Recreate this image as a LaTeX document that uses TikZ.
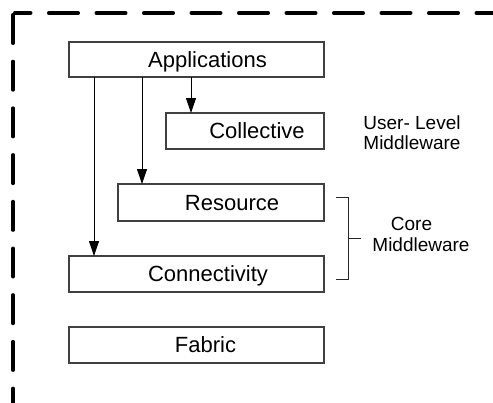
\documentclass[tikz,border=0pt]{standalone}
\usepackage{fontspec}
\setmainfont{Liberation Sans}
\usetikzlibrary{arrows.meta}
\begin{document}
\begin{tikzpicture}[x=1pt,y=-1pt,
  layerbox/.style={draw=black!75,line width=1.1pt},
  boxtext/.style={anchor=base,inner sep=0pt,font=\fontsize{22}{26}\selectfont},
  sidetext/.style={anchor=base,inner sep=0pt,font=\fontsize{19}{22}\selectfont},
  flow/.style={draw=black,line width=0.9pt,-{Triangle[length=15pt,width=10pt]}},
  border/.style={line width=3.5pt,line cap=round}]
\useasboundingbox (0,0) rectangle (493,402);
% dashed outer frame (clipped at the right and bottom)
\begin{scope}
\clip (0,0) rectangle (493,402);
\draw[border,dash pattern=on 28.5pt off 18.2pt] (13,14.75) -- (13,420);
\draw[border,dash pattern=on 29.5pt off 18pt,dash phase=13.5pt] (14.75,13) -- (520,13);
\end{scope}
% layer boxes
\draw[layerbox] (69,42) rectangle (324,77);
\coordinate (appB) at (69,77);
\draw[layerbox] (166,113) rectangle (324,149);
\draw[layerbox] (118,184) rectangle (324,221);
\draw[layerbox] (69,256) rectangle (324,292);
\draw[layerbox] (69,327) rectangle (324,363);
\node[boxtext] (app) at (207.5,67.4) {Applications};
\node[boxtext] (col) at (257,138.9) {Collective};
\node[boxtext] (res) at (232,210.4) {Resource};
\node[boxtext] (con) at (208,281.9) {Connectivity};
\node[boxtext] (fab) at (205.5,352.9) {Fabric};
% connectors
\coordinate (a1) at (94,77);  \coordinate (e1) at (94,256);
\coordinate (a2) at (142,77); \coordinate (e2) at (142,184);
\coordinate (a3) at (191,77); \coordinate (e3) at (191,113);
\draw[flow] (a1) -- (e1);
\draw[flow] (a2) -- (e2);
\draw[flow] (a3) -- (e3);
% bracket
\coordinate (bt) at (336,197.3);
\coordinate (bb) at (336,279.3);
\coordinate (bm) at (360.7,238.3);
\draw[black!85,line width=1pt] (bt) -- (348.5,197.3) -- (348.5,279.3) -- (bb);
\draw[black!85,line width=1pt] (348.5,238.3) -- (bm);
% side labels
\node[sidetext] (ul1) at (412,129) {User- Level};
\node[sidetext] (ul2) at (412,149) {Middleware};
\node[sidetext] (cm1) at (411.5,230.7) {Core};
\node[sidetext] (cm2) at (421,251.7) {Middleware};
\end{tikzpicture}
\end{document}
